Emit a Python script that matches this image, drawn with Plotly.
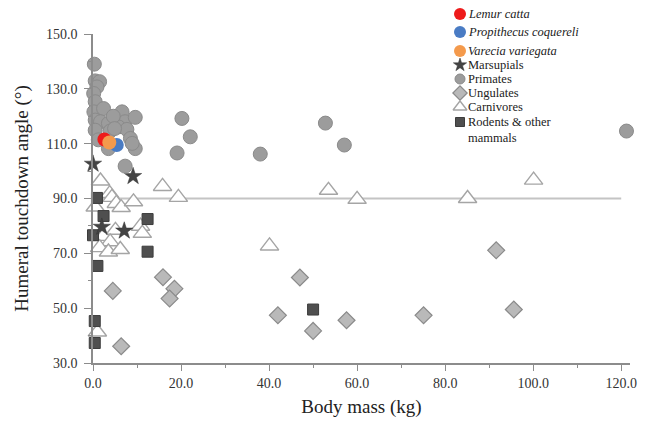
import plotly.graph_objects as go

# ---------------- data ----------------
primates_x = [0.3, 0.5, 1.5, 0.9, 0.15, 0.5, 0.2, 2.4, 0.5, 1.7, 3.5, 6.6, 7.3, 9.6, 5.8, 7.7,
              0.5, 8.5, 9.6, 8.9, 3.5, 4.6, 3.9, 1.2, 4.9, 20.2, 22.1, 19.1, 7.3, 52.8, 57.1, 38.0, 121.2]
primates_y = [139.0, 132.9, 132.6, 130.7, 128.3, 125.3, 121.6, 122.8, 118.6, 118.0, 117.4, 121.6, 118.0, 119.6, 116.1, 115.2,
              114.9, 111.9, 108.2, 110.1, 108.2, 120.0, 114.6, 111.4, 115.5, 119.2, 112.5, 106.6, 101.8, 117.5, 109.5, 106.2, 114.6]

lemur_x = [2.6]
lemur_y = [111.5]
propithecus_x = [5.4]
propithecus_y = [109.5]
varecia_x = [3.7]
varecia_y = [110.4]

marsupials_x = [0.0, 9.1, 2.0, 7.1]
marsupials_y = [102.6, 98.1, 79.6, 78.2]

ungulates_x = [4.5, 6.4, 15.9, 18.5, 17.4, 47.0, 42.0, 50.0, 57.6, 75.1, 91.6, 95.6]
ungulates_y = [56.3, 36.1, 61.3, 57.1, 53.5, 61.2, 47.4, 41.7, 45.6, 47.4, 71.1, 49.5]

carnivores_x = [1.7, 15.8, 19.4, 3.8, 4.3, 5.3, 6.4, 9.2, 0.5, 2.3, 5.1, 10.8, 11.2, 3.9, 1.5, 3.5, 6.2,
                1.0, 53.5, 60.0, 40.1, 85.1, 100.1]
carnivores_y = [96.4, 94.4, 90.4, 91.8, 90.4, 88.2, 86.7, 88.8, 86.9, 76.2, 78.4, 79.9, 77.3, 74.2, 72.1, 70.5, 71.4,
                41.3, 93.0, 89.7, 72.7, 90.0, 96.7]

rodents_x = [0.9, 2.4, 0.0, 12.4, 12.4, 1.0, 0.4, 0.4, 50.0]
rodents_y = [90.2, 83.6, 76.6, 82.5, 70.6, 65.4, 45.3, 37.3, 49.5]

ref_line_x = [0, 120]
ref_line_y = [90, 90]

x_ticks = [0, 20, 40, 60, 80, 100, 120]
y_ticks = [30, 50, 70, 90, 110, 130, 150]

legend_labels = ["<i>Lemur catta</i>", "<i>Propithecus coquereli</i>", "<i>Varecia variegata</i>",
                 "Marsupials", "Primates", "Ungulates", "Carnivores", "Rodents &amp; other<br>mammals"]

# ---------------- layout geometry (figure pixels) ----------------
FONT = "Liberation Serif, Times New Roman, serif"
W, H = 640, 421
ML, MR, MT, MB = 85, 18, 0, 66
PLOT_TOP = 26                     # top of the data area, px from figure top
PLOT_H = H - MT - MB
Y_DOMAIN_TOP = (PLOT_H - (PLOT_TOP - MT)) / PLOT_H

styles = {
    "lemur": dict(symbol="circle", size=14, color="#ee1b1b", line=dict(width=0)),
    "prop": dict(symbol="circle", size=14, color="#4a7cc4", line=dict(width=0)),
    "varecia": dict(symbol="circle", size=14, color="#f49a4c", line=dict(width=0)),
    "marsupials": dict(symbol="star", size=13, color="#444444", line=dict(color="#333333", width=0.5)),
    "primates": dict(symbol="circle", size=14, color="#9c9c9c", line=dict(color="#8a8a8a", width=1)),
    "ungulates": dict(symbol="diamond", size=13, color="#b9b9b9", line=dict(color="#8a8a8a", width=1.2)),
    "carnivores": dict(symbol="triangle-up", size=16, color="white", line=dict(color="#a5a5a5", width=1.4)),
    "rodents": dict(symbol="square", size=11, color="#4f4f4f", line=dict(color="#3c3c3c", width=1)),
}
legend_keys = ["lemur", "prop", "varecia", "marsupials", "primates", "ungulates", "carnivores", "rodents"]
legend_marker_sizes = [12, 12, 12, 10, 10, 11, 12, 9]
legend_ypix = [6, 24, 43, 57, 71, 85, 99, 114]
legend_xpix = 452
LEG_FONT = 12.5
LEG_LINE = 15

fig = go.Figure()

fig.add_trace(go.Scatter(x=ref_line_x, y=ref_line_y, mode="lines",
                         line=dict(color="#c4c4c4", width=2), showlegend=False, hoverinfo="skip"))

series = [
    (ungulates_x, ungulates_y, "ungulates", "Ungulates"),
    (carnivores_x, carnivores_y, "carnivores", "Carnivores"),
    (rodents_x, rodents_y, "rodents", "Rodents & other mammals"),
    (marsupials_x, marsupials_y, "marsupials", "Marsupials"),
    (primates_x, primates_y, "primates", "Primates"),
    (lemur_x, lemur_y, "lemur", "Lemur catta"),
    (propithecus_x, propithecus_y, "prop", "Propithecus coquereli"),
    (varecia_x, varecia_y, "varecia", "Varecia variegata"),
]
for xs, ys, key, nm in series:
    fig.add_trace(go.Scatter(x=xs, y=ys, mode="markers", name=nm, showlegend=False,
                             marker=styles[key], cliponaxis=False))

# ---------------- custom legend on a full-size pixel-space axis pair ----------------
for key, sz, yp in zip(legend_keys, legend_marker_sizes, legend_ypix):
    st = dict(styles[key])
    st["size"] = sz
    fig.add_trace(go.Scatter(x=[legend_xpix], y=[yp], xaxis="x2", yaxis="y2", mode="markers",
                             marker=st, showlegend=False, hoverinfo="skip", cliponaxis=False))

annotations = []
for lab, yp in zip(legend_labels, legend_ypix):
    nlines = lab.count("<br>") + 1
    annotations.append(dict(x=legend_xpix + 7, y=yp + (nlines - 1) * LEG_LINE / 2, xref="x2", yref="y2", text=lab,
                            showarrow=False, xanchor="left", yanchor="middle", align="left",
                            borderpad=0, font=dict(family=FONT, size=LEG_FONT, color="#222222")))

axis_common = dict(
    showgrid=False, zeroline=False, showline=True, linecolor="#8c8c8c", linewidth=1.5,
    ticks="outside", tickwidth=1.2, tickcolor="#8c8c8c",
    tickfont=dict(family=FONT, size=14, color="#333333"),
    tickformat=".1f", automargin=False,
)

fig.update_layout(
    width=W, height=H,
    margin=dict(l=ML, r=MR, t=MT, b=MB, autoexpand=False),
    paper_bgcolor="white", plot_bgcolor="rgba(0,0,0,0)",
    font=dict(family=FONT, color="#222222"),
    xaxis=dict(range=[0, 122], tickvals=x_ticks, ticklen=6,
               minor=dict(dtick=10, tick0=0, ticks="outside", ticklen=3, tickcolor="#8c8c8c"),
               title=dict(text="Body mass (kg)", font=dict(family=FONT, size=19, color="#222222"), standoff=10),
               **axis_common),
    yaxis=dict(range=[30, 150], tickvals=y_ticks, ticklen=7, ticklabelstandoff=4,
               domain=[0, Y_DOMAIN_TOP],
               minor=dict(dtick=10, tick0=0, ticks="outside", ticklen=3, tickcolor="#8c8c8c"),
               title=dict(text="Humeral touchdown angle (°)", font=dict(family=FONT, size=19, color="#222222"), standoff=12),
               **axis_common),
    xaxis2=dict(anchor="y2", domain=[0, 1], range=[ML, W - MR], visible=False, fixedrange=True),
    yaxis2=dict(anchor="x2", domain=[0, 1], range=[H - MB, MT], visible=False, fixedrange=True),
    annotations=annotations,
    showlegend=False,
)

fig.write_html("out.html")
